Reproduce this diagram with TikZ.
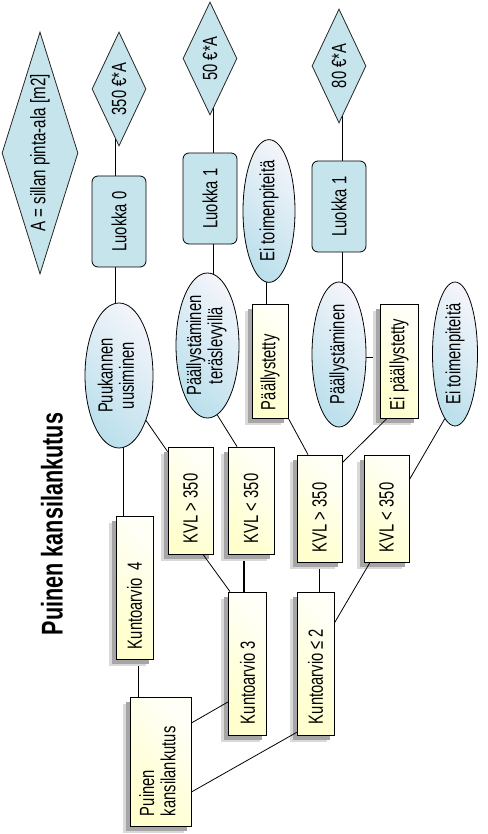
\documentclass[tikz,border=0pt]{standalone}
\usepackage{fontspec}
\setmainfont{Liberation Sans}[FakeStretch=0.72]
\usetikzlibrary{shapes.geometric,shadows,calc}
\pgfdeclarelayer{background}
\pgfsetlayers{background,main}
\definecolor{bluefill}{RGB}{198,228,235}
\definecolor{ellblue}{RGB}{188,224,236}
\definecolor{elllight}{RGB}{242,244,250}
\definecolor{ylw}{RGB}{255,255,205}
\definecolor{ylwlight}{RGB}{255,255,248}
\newcommand{\vt}[1]{\rotatebox{90}{#1}}
\newcommand{\vtl}[2]{\rotatebox{90}{\makebox[#1][l]{#2}}}
\begin{document}
\begin{tikzpicture}[x=1pt,y=-1pt,
  shp/.style={font=\fontsize{20.5}{21}\selectfont, inner sep=0pt, line width=0.8pt, draw=black},
  dia/.style={shp, diamond, fill=bluefill, draw=black!85},
  lbox/.style={shp, rectangle, rounded corners=6pt, fill=bluefill},
  ell/.style={shp, ellipse, top color=elllight, bottom color=ellblue, shading angle=-45},
  ybox/.style={shp, rectangle, top color=ylwlight, bottom color=ylw, shading angle=-45,
     general shadow={shadow xshift=-7pt, shadow yshift=-7pt, fill=black!15},
     general shadow={shadow xshift=-4.5pt, shadow yshift=-4.5pt, fill=black!35}},
  conn/.style={line width=0.8pt, draw=black},
  title/.style={font=\bfseries\fontsize{30}{30}\selectfont, inner sep=0pt}]
\useasboundingbox (0,0) rectangle (487,834);

% title
\node[title] (ttl) at (52,524) {\vt{Puinen kansilankutus}};

% diamonds
\node[dia, font=\fontsize{21}{21}\selectfont, minimum width=76pt, minimum height=242pt, shape aspect=0.314] (dA) at (40,153) {\vt{A = sillan pinta-ala [m2]}};
\node[dia, minimum width=54pt, minimum height=114pt, shape aspect=0.474] (d350) at (119,89) {\vt{350 €*A}};
\node[dia, minimum width=54pt, minimum height=113pt, shape aspect=0.478] (d50) at (210,58.5) {\vt{50 €*A}};
\node[dia, minimum width=54pt, minimum height=114pt, shape aspect=0.474] (d80) at (339,66) {\vt{80 €*A}};

% Luokka boxes
\node[lbox, minimum width=54pt, minimum height=91pt] (L0) at (119,221.5) {\vt{Luokka 0}};
\node[lbox, minimum width=54pt, minimum height=91pt] (L1) at (210,198.5) {\vt{Luokka 1}};
\node[lbox, minimum width=54pt, minimum height=91pt] (L2) at (339,206.5) {\vt{Luokka 1}};

% ellipses
\node[ell, minimum width=68pt, minimum height=145pt] (E1) at (119,375.5) {\vt{\begin{tabular}{@{}c@{}}Puukannen\\uusiminen\end{tabular}}};
\node[ell, minimum width=63pt, minimum height=145pt] (E2) at (207.5,345.5) {\vt{\begin{tabular}{@{}c@{}}Päällystäminen\\teräslevyillä\end{tabular}}};
\node[ell, minimum width=52pt, minimum height=142pt] (E3) at (269,211) {\vt{Ei toimenpiteitä}};
\node[ell, minimum width=54pt, minimum height=145pt] (E4) at (339,354.5) {\vt{Päällystäminen}};
\node[ell, minimum width=45pt, minimum height=144pt] (E5) at (455,354) {\vt{Ei toimenpiteitä}};

% yellow boxes
\node[ybox, minimum width=61pt, minimum height=129pt] (P0) at (160.5,761.5) {\vtl{109pt}{\begin{tabular}{@{}l@{}}Puinen\\kansilankutus\end{tabular}}};
\node[ybox, minimum width=37pt, minimum height=143pt] (K4) at (134.5,587.5) {\vtl{123pt}{Kuntoarvio\ \ 4}};
\node[ybox, minimum width=38.5pt, minimum height=143pt] (K3) at (247.5,663.5) {\vtl{121pt}{Kuntoarvio 3}};
\node[ybox, minimum width=37pt, minimum height=143pt] (K2) at (315.5,663.5) {\vtl{121pt}{Kuntoarvio ≤ 2}};
\node[ybox, minimum width=45pt, minimum height=107pt] (V1) at (190.5,500.5) {\vtl{85pt}{KVL > 350}};
\node[ybox, minimum width=46pt, minimum height=107pt] (V2) at (251,500.5) {\vtl{85pt}{KVL < 350}};
\node[ybox, minimum width=45pt, minimum height=107pt] (V3) at (319.5,508.5) {\vtl{87pt}{KVL > 350}};
\node[ybox, minimum width=45pt, minimum height=107pt] (V4) at (386.5,508.5) {\vtl{87pt}{KVL < 350}};
\node[ybox, minimum width=36pt, minimum height=114pt] (B1) at (270,361) {\vtl{98pt}{Päällystetty}};
\node[ybox, minimum width=38pt, minimum height=114pt] (B2) at (399,361) {\vtl{98pt}{Ei päällystetty}};

% vertical connectors behind the shapes
\begin{pgfonlayer}{background}
\draw[conn] ($(d350.center)+(-3.3,0)$) -- ($(E1.center)+(-3.3,0)$);
\draw[conn] ($(d50.center)+(3.3,0)$) -- ($(d50.center |- E2.center)+(3.3,0)$);
\draw[conn] ($(d80.center)+(3,0)$) -- ($(E4.center)+(3,0)$);
\draw[conn] ($(E3.center)+(-3,0)$) -- ($(E3.center |- B1.center)+(-3,0)$);
\draw[conn] ($(E1.center)+(4,0)$) -- ($(E1.center |- K4.center)+(4,0)$);
\draw[conn] ($(K4.center)+(3.5,0)$) -- ($(K4.center |- P0.center)+(3.5,0)$);
\draw[conn, line width=1.5pt] ($(V2.center)+(-7,0)$) -- ($(V2.center |- K3.center)+(-7,0)$);
\draw[conn] (V3.center) -- (V3.center |- K2.center);
\draw[conn] ($(E4.center)+(0,2.5)$) -- ($(E4.center -| B2.center)+(0,2.5)$);
\end{pgfonlayer}

% diagonal connectors
\draw[conn] (E1.-59) -- ($(V1.north west)+(0,5)$);
\draw[conn] (E2.-82) -- ($(V2.north)+(-14,0)$);
\draw[conn] ($(V1.south)+(12.5,0)$) -- ($(K3.north)+(-17.5,0)$);
\draw[conn] ($(P0.east)+(0,-38.5)$) -- ($(K3.west)+(0,38.5)$);
\draw[conn] ($(P0.east)+(0,30.5)$) -- ($(K2.south west)+(0,-3)$);
\draw[conn] ($(K2.east)+(0,-40.5)$) -- ($(V4.south)+(-16.5,0)$);
\draw[conn] (B1.south east) -- ($(V3.north)+(-11.5,0)$);
\draw[conn] ($(V3.north east)+(0,8)$) -- ($(B2.south)+(-12,0)$);
\draw[conn] ($(V4.north east)+(0,25)$) -- (E5.-99);
\end{tikzpicture}
\end{document}
